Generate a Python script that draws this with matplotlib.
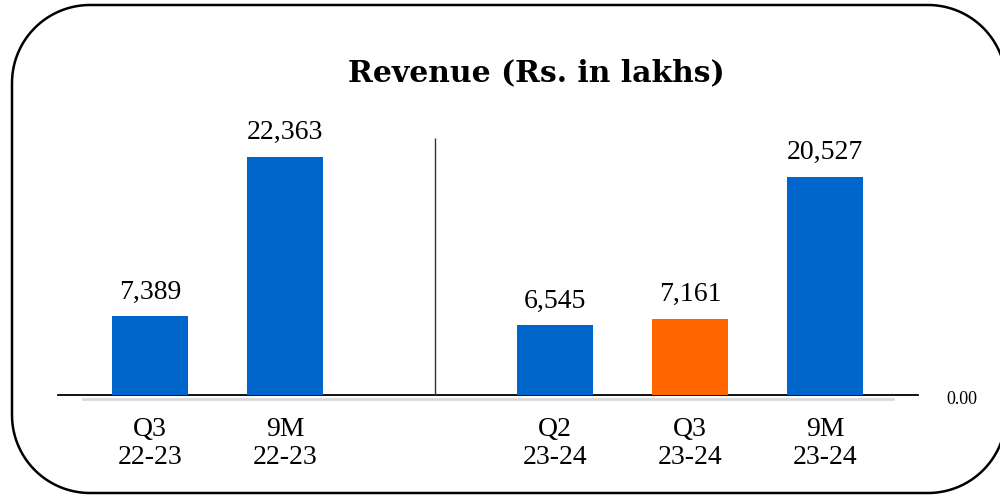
import matplotlib
matplotlib.use('Agg')
import matplotlib.pyplot as plt
import numpy as np
from matplotlib.patches import Polygon

categories = ["Q3\n22-23", "9M\n22-23", "", "Q2\n23-24", "Q3\n23-24", "9M\n23-24"]
revenue = [7389, 22363, 0, 6545, 7161, 20527]
value_labels = ["7,389", "22,363", "", "6,545", "7,161", "20,527"]
bar_colors = ["#0066cc", "#0066cc", "#0066cc", "#0066cc", "#ff6600", "#0066cc"]
zero_series = 0.00

plt.rcParams['font.family'] = ['Liberation Serif', 'DejaVu Serif']


def rounded_frame(x0, y0, x1, y1, r):
    # outline of a box with circular corners (y grows downward)
    pts = []
    corners = [(x1 - r, y0 + r, -90, 0), (x1 - r, y1 - r, 0, 90),
               (x0 + r, y1 - r, 90, 180), (x0 + r, y0 + r, 180, 270)]
    for cx, cy, a0, a1 in corners:
        t = np.radians(np.linspace(a0, a1, 40))
        pts += list(zip(cx + r * np.cos(t), cy + r * np.sin(t)))
    return pts


fig = plt.figure(figsize=(10, 4.95), dpi=100)

# rounded frame, drawn in pixel units
bg = fig.add_axes([0, 0, 1, 1], zorder=0)
bg.set_xlim(0, 1000)
bg.set_ylim(495, 0)
bg.axis('off')
bg.add_patch(Polygon(rounded_frame(12, 5, 1006, 493, 78), closed=True, fill=False,
                     edgecolor='black', linewidth=1.8, clip_on=True))

ax = fig.add_axes([82.5 / 1000, 100 / 495, 810 / 1000, 266 / 495], zorder=1)
ax.patch.set_alpha(0)
x = list(range(len(categories)))
ax.bar(x, revenue, width=0.563, color=bar_colors, zorder=3)
ax.set_xlim(-0.5, 5.5)
ax.set_ylim(0, 25000)

for xi, v, lab in zip(x, revenue, value_labels):
    if lab:
        ax.annotate(lab, (xi, v), xytext=(0, 8.5), textcoords='offset points',
                    ha='center', va='bottom', fontsize=20)

# zero line series with its label
ax.axhline(zero_series, xmin=-25 / 810, xmax=1 + 25 / 810, color='black', lw=1.3,
           clip_on=False, zorder=2)
ax.annotate("{:.2f}".format(zero_series), (1, 0), xycoords=('axes fraction', 'data'),
            xytext=(39, -3), textcoords='offset points', ha='left', va='center', fontsize=13)

# separator between the two periods
ax.vlines(2.11, 0, 24150, color='#333333', lw=1, zorder=2)

for s in ['top', 'left', 'right']:
    ax.spines[s].set_visible(False)
ax.spines['bottom'].set_position(('outward', 3))
ax.spines['bottom'].set_color('#d9d9d9')
ax.spines['bottom'].set_linewidth(2)
ax.set_yticks([])
ax.set_xticks(x)
ax.set_xticklabels(categories, fontsize=20, linespacing=1.12)
ax.tick_params(axis='x', length=0, pad=13)

fig.text(0.536, 1 - 73 / 495, "Revenue (Rs. in lakhs)", ha='center', va='center',
         fontsize=21.5, fontweight='bold', family='DejaVu Serif')

fig.savefig('out.png', dpi=100)
